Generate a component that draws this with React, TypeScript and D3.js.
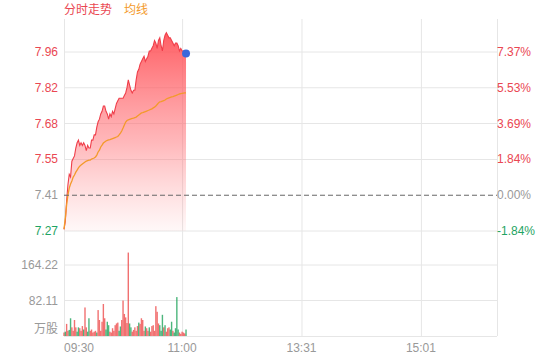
import React from "react";
import * as d3 from "d3";

const basePrice = 7.41;

const prices = [
  7.28, 7.31, 7.39, 7.45, 7.49, 7.48, 7.54, 7.55, 7.56, 7.59,
  7.61, 7.62, 7.6, 7.61, 7.6, 7.61, 7.6, 7.58, 7.6, 7.59,
  7.59, 7.62, 7.62, 7.64, 7.64, 7.67, 7.69, 7.7, 7.72, 7.73,
  7.75, 7.75, 7.73, 7.72, 7.7, 7.72, 7.71, 7.73, 7.72, 7.74,
  7.76, 7.77, 7.78, 7.78, 7.78, 7.78, 7.79, 7.8, 7.82, 7.85,
  7.83, 7.81, 7.8, 7.81, 7.81, 7.85, 7.88, 7.89, 7.91, 7.92,
  7.93, 7.94, 7.92, 7.93, 7.94, 7.96, 7.96, 7.97, 7.98, 8.0,
  7.99, 7.97, 8.0, 8.01, 7.98, 7.96, 8.0, 8.02, 8.03, 8.02,
  8.01, 8.01, 8.0, 7.99, 7.98, 7.99, 7.99, 7.98, 7.96, 7.97,
  7.96, 7.96, 7.96, 7.95,
];

const avgPrices = [
  7.281, 7.323, 7.373, 7.411, 7.437, 7.453, 7.464, 7.479, 7.487, 7.498,
  7.506, 7.514, 7.521, 7.525, 7.529, 7.533, 7.537, 7.54, 7.542, 7.544,
  7.544, 7.548, 7.55, 7.552, 7.556, 7.563, 7.575, 7.582, 7.594, 7.601,
  7.609, 7.613, 7.617, 7.619, 7.621, 7.622, 7.624, 7.626, 7.628, 7.63,
  7.632, 7.634, 7.64, 7.647, 7.655, 7.666, 7.678, 7.689, 7.695, 7.697,
  7.699, 7.701, 7.703, 7.704, 7.706, 7.708, 7.712, 7.716, 7.72, 7.724,
  7.725, 7.727, 7.729, 7.731, 7.733, 7.735, 7.737, 7.739, 7.743, 7.746,
  7.75, 7.756, 7.762, 7.766, 7.767, 7.769, 7.771, 7.773, 7.777, 7.779,
  7.781, 7.783, 7.785, 7.786, 7.788, 7.79, 7.792, 7.794, 7.796, 7.797,
  7.798, 7.799, 7.8, 7.8,
];

const volumes = [
  8, 10, 28, 12, 14, 41, 20, 12, 37, 20,
  10, 20, 18, 12, 23, 15, 66, 20, 10, 41,
  12, 15, 8, 10, 12, 8, 60, 37, 12, 33,
  74, 41, 15, 33, 25, 10, 8, 18, 12, 25,
  29, 31, 12, 22, 37, 82, 51, 43, 30, 193,
  29, 20, 10, 14, 20, 12, 23, 31, 28, 41,
  37, 12, 22, 18, 12, 20, 10, 23, 25, 12,
  69, 56, 29, 25, 12, 49, 20, 25, 10, 18,
  20, 15, 33, 12, 8, 18, 90, 15, 8, 5,
  10, 8, 6, 15,
];

// u = up (red), d = down (green)
const volumeDirections = [
  "u", "d", "u", "u", "d", "d", "u", "u", "u", "u",
  "d", "d", "u", "u", "u", "d", "u", "u", "d", "d",
  "u", "u", "u", "u", "u", "d", "u", "u", "u", "u",
  "u", "u", "d", "d", "d", "u", "u", "u", "u", "u",
  "u", "u", "d", "d", "u", "u", "u", "u", "u", "u",
  "d", "d", "u", "u", "u", "u", "u", "d", "u", "u",
  "u", "u", "d", "u", "u", "d", "u", "u", "u", "u",
  "u", "u", "u", "d", "d", "d", "u", "d", "u", "u",
  "u", "d", "d", "u", "d", "d", "d", "d", "u", "u",
  "u", "u", "u", "d",
];

const pctTicks = [-1.84, 0, 1.84, 3.69, 5.53, 7.37];
const priceTickLabels = ["7.27", "7.41", "7.55", "7.68", "7.82", "7.96"];
const pctTickLabels = ["-1.84%", "0.00%", "1.84%", "3.69%", "5.53%", "7.37%"];

const volumeTicks = [82.11, 164.22];
const volumeTickLabels = ["82.11", "164.22"];

const timeTickSlots = [0, 90, 181, 272];
const timeTickLabels = ["09:30", "11:00", "13:31", "15:01"];
const totalSlots = 330;

const RED = "#ea4752";
const LINE_RED = "#ef3e4a";
const GREEN = "#1fa463";
const GRAY = "#999999";
const ORANGE = "#f39a2b";
const GRID = "#e6e6e6";
const FONT = '"Liberation Sans", Arial, "Noto Sans CJK SC", sans-serif';

export default function App() {
  const left = 64;
  const right = 497;
  const top = 19;
  const bottom = 336;

  const x = d3.scaleLinear().domain([0, totalSlots]).range([left, right]);
  const yPct = d3.scaleLinear().domain([-1.84, 7.37]).range([231, 52]);
  const yPrice = (p: number) => yPct((p / basePrice - 1) * 100);
  const yVol = d3.scaleLinear().domain([0, 164.22]).range([bottom, 265]);

  const line = d3
    .line<number>()
    .x((_, i) => x(i))
    .y((d) => yPrice(d));
  const area = d3
    .area<number>()
    .x((_, i) => x(i))
    .y0(231)
    .y1((d) => yPrice(d));

  const lastIdx = prices.length - 1;

  const pctColor = (v: number) => (v > 0 ? RED : v < 0 ? GREEN : GRAY);

  return (
    <svg
      width={560}
      height={360}
      style={{ position: "absolute", left: 0, top: 0, fontFamily: FONT }}
    >
      <defs>
        <linearGradient id="priceFill" gradientUnits="userSpaceOnUse" x1="0" y1="34" x2="0" y2="231">
          <stop offset="0%" stopColor="#ff4a50" stopOpacity={0.88} />
          <stop offset="55%" stopColor="#ff6a70" stopOpacity={0.48} />
          <stop offset="100%" stopColor="#ff8a8c" stopOpacity={0.06} />
        </linearGradient>
      </defs>
      <rect x={0} y={0} width={560} height={360} fill="#ffffff" />

      {/* legend */}
      <text x={64} y={14} fontSize={12} fill={RED}>分时走势</text>
      <text x={124} y={14} fontSize={12} fill={ORANGE}>均线</text>

      {/* horizontal price grid */}
      {pctTicks.map((t, i) =>
        t === 0 ? null : (
          <line key={"hg" + i} x1={left} x2={right} y1={yPct(t)} y2={yPct(t)} stroke={GRID} strokeWidth={1} />
        )
      )}
      {/* volume grid */}
      {volumeTicks.map((t, i) => (
        <line key={"vg" + i} x1={left} x2={right} y1={yVol(t)} y2={yVol(t)} stroke={GRID} strokeWidth={1} />
      ))}
      <line x1={left} x2={right} y1={bottom + 0.5} y2={bottom + 0.5} stroke={GRID} strokeWidth={1} />

      {/* vertical grid */}
      {[...timeTickSlots, totalSlots].map((s, i) => (
        <line key={"vv" + i} x1={x(s) + 0.5} x2={x(s) + 0.5} y1={top} y2={bottom} stroke={GRID} strokeWidth={1} />
      ))}

      {/* price area & lines */}
      <path d={area(prices) || ""} fill="url(#priceFill)" />
      <path d={line(prices) || ""} fill="none" stroke={LINE_RED} strokeWidth={1.1} />
      <path d={line(avgPrices) || ""} fill="none" stroke={ORANGE} strokeWidth={1.3} />

      {/* base dashed line */}
      <line
        x1={left}
        x2={right}
        y1={yPct(0)}
        y2={yPct(0)}
        stroke="#666"
        strokeWidth={1}
        strokeDasharray="5,3"
      />

      {/* last point */}
      <circle cx={x(lastIdx)} cy={yPrice(prices[lastIdx])} r={4} fill="#3a68dc" />

      {/* volume bars */}
      {volumes.map((v, i) => (
        <rect
          key={"vb" + i}
          x={x(i) - 0.7}
          y={yVol(v)}
          width={1.4}
          height={bottom - yVol(v)}
          fill={volumeDirections[i] === "u" ? "#ee4e4e" : "#21a45c"}
          opacity={0.8}
        />
      ))}

      {/* left axis labels */}
      {pctTicks.map((t, i) => (
        <text
          key={"lp" + i}
          x={58}
          y={yPct(t) + 4}
          fontSize={12}
          textAnchor="end"
          fill={pctColor(t)}
        >
          {priceTickLabels[i]}
        </text>
      ))}
      {/* right axis labels */}
      {pctTicks.map((t, i) => (
        <text key={"rp" + i} x={497} y={yPct(t) + 4} fontSize={12} fill={pctColor(t)}>
          {pctTickLabels[i]}
        </text>
      ))}
      {/* volume labels */}
      {volumeTicks.map((t, i) => (
        <text key={"vl" + i} x={58} y={yVol(t) + 4} fontSize={12} textAnchor="end" fill={GRAY}>
          {volumeTickLabels[i]}
        </text>
      ))}
      <text x={58} y={333} fontSize={12} textAnchor="end" fill={GRAY}>万股</text>

      {/* time labels */}
      {timeTickSlots.map((s, i) => (
        <text
          key={"tl" + i}
          x={x(s)}
          y={352}
          fontSize={12}
          textAnchor={i === 0 ? "start" : "middle"}
          fill={GRAY}
        >
          {timeTickLabels[i]}
        </text>
      ))}
    </svg>
  );
}
